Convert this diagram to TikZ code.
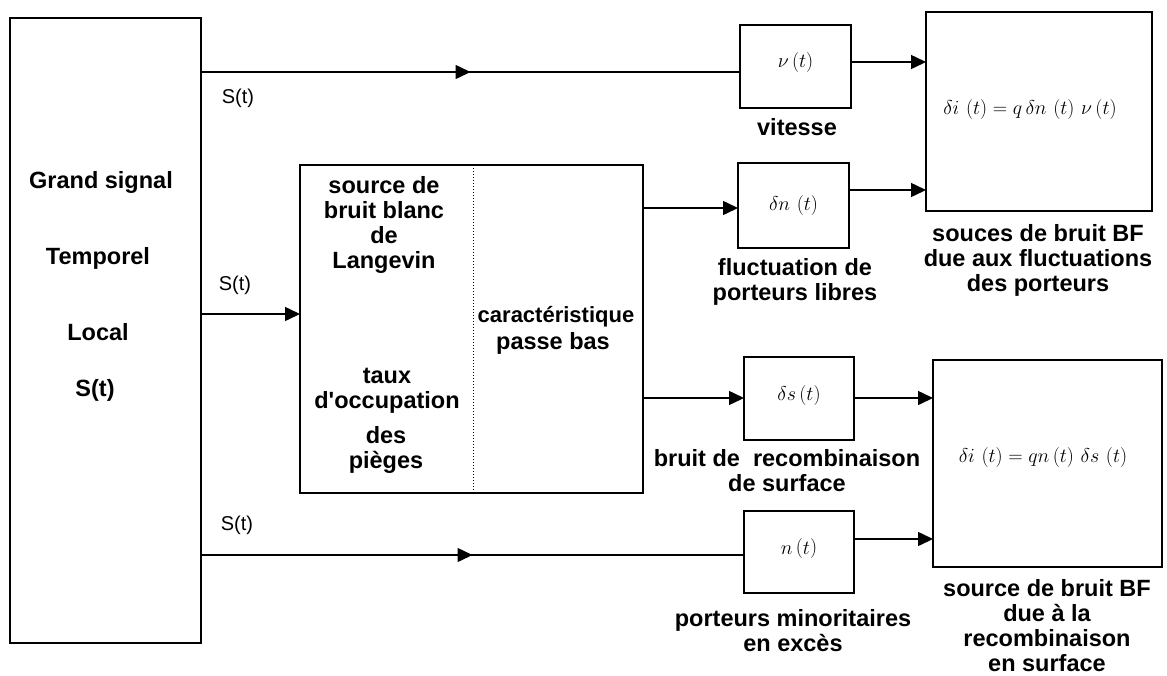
\RequirePackage{fix-cm}
\documentclass[tikz,border=0pt]{standalone}
\usepackage{fontspec}
\setmainfont{Liberation Sans}
\usetikzlibrary{arrows.meta,decorations.markings}
% tall parentheses around the time variable
\newcommand\tpar{\left(\rule[-5pt]{0pt}{19pt}t\right)}
\begin{document}
\begin{tikzpicture}[x=1pt,y=-1pt,
  box/.style={draw, line width=1.5pt, inner sep=0pt, outer sep=0pt},
  lbl/.style={font=\fontsize{23.5}{25}\selectfont\bfseries, align=center, inner sep=0pt},
  sig/.style={font=\fontsize{20}{22}\selectfont, inner sep=0pt},
  eq/.style={font=\fontsize{20}{24}\selectfont, inner sep=0pt},
  wire/.style={line width=1.5pt},
  tip/.tip={Triangle[length=15pt,width=14pt]},
  arr/.style={wire, -tip},
  midarr/.style={wire, postaction={decorate},
    decoration={markings, mark=at position 0.5 with {\arrow{tip}}}}
]
\useasboundingbox (0,0) rectangle (1167,675);

% blocks
\node[box, minimum width=191pt, minimum height=625pt] (L)  at (105.5,330.5) {};
\node[box, minimum width=343pt, minimum height=328pt] (M)  at (471.5,329) {};
\node[box, minimum width=111pt, minimum height=83pt]  (V)  at (795.5,66.5) {};
\node[box, minimum width=111pt, minimum height=85pt]  (DN) at (793.5,205.5) {};
\node[box, minimum width=110pt, minimum height=83pt]  (DS) at (799,398.5) {};
\node[box, minimum width=110pt, minimum height=82pt]  (N)  at (799,552) {};
\node[box, minimum width=226pt, minimum height=199pt] (B1) at (1039,111.5) {};
\node[box, minimum width=229pt, minimum height=207pt] (B2) at (1047.5,463.5) {};

% dotted separator inside the trap block
\coordinate (sepT) at (473,165);
\coordinate (sepB) at (473,493);
\draw[line width=1pt, dotted] (sepT) -- (sepB);

% connectors
\draw[midarr] (L.east |- 0,72) -- (V.west |- 0,72);
\draw[arr] (L.east |- 0,314) -- (M.west |- 0,314);
\draw[midarr] (L.east |- 0,555) -- (N.west |- 0,555);
\draw[arr] (M.east |- 0,208) -- (DN.west |- 0,208);
\draw[arr] (M.east |- 0,398) -- (DS.west |- 0,398);
\draw[arr] (V.east |- 0,62) -- (B1.west |- 0,62);
\draw[arr] (DN.east |- 0,190) -- (B1.west |- 0,190);
\draw[arr] (DS.east |- 0,398) -- (B2.west |- 0,398);
\draw[arr] (N.east |- 0,539) -- (B2.west |- 0,539);

% signal labels
\node[sig] (s1) at (238,98) {S(t)};
\node[sig] (s2) at (235,285) {S(t)};
\node[sig] (s3) at (237,525) {S(t)};

% large-signal block
\node[lbl] (g1) at (101,182) {Grand signal};
\node[lbl] (g2) at (98,258) {Temporel};
\node[lbl] (g3) at (98,332) {Local};
\node[lbl] (g4) at (95,390) {S(t)};

% trap block
\node[lbl] (m1) at (384,225) {source de\\bruit blanc\\de\\Langevin};
\node[lbl, font=\fontsize{22}{25}\selectfont\bfseries] (m2) at (556,317) {caractéristique};
\node[lbl] (m3) at (553,343) {passe bas};
\node[lbl] (m4) at (387,391) {taux\\d\textquotesingle occupation};
\node[lbl] (m5) at (386,450) {des\\pièges};

% small blocks
\node[eq] at (V.center) [yshift=4pt] {$\nu\tpar$};
\node[eq] at (DN) {$\delta n\,\tpar$};
\node[eq] at (DS.center) [yshift=3pt] {$\delta s\tpar$};
\node[eq] at (N.center) [yshift=3pt] {$n\tpar$};
\node[lbl] (lv)  at (797,127) {vitesse};
\node[lbl] (ldn) at (795,282) {fluctuation de\\porteurs libres};
\node[lbl] (lds) at (787,471) {bruit de\ \ recombinaison\\de surface};
\node[lbl] (ln)  at (793,631) {porteurs minoritaires\\en excès};

% noise source blocks
\node[eq] at (1030,110) {$\delta i\,\tpar=q\,\delta n\,\tpar\,\nu\tpar$};
\node[eq] at (1043,458) {$\delta i\,\tpar=q n\tpar\,\delta s\,\tpar$};
\node[lbl] (lb1) at (1038,260) {souces de bruit BF\\due aux fluctuations\\des porteurs};
\node[lbl] (lb2) at (1047,626) {source de bruit BF\\due à la\\recombinaison\\en surface};
\end{tikzpicture}
\end{document}
